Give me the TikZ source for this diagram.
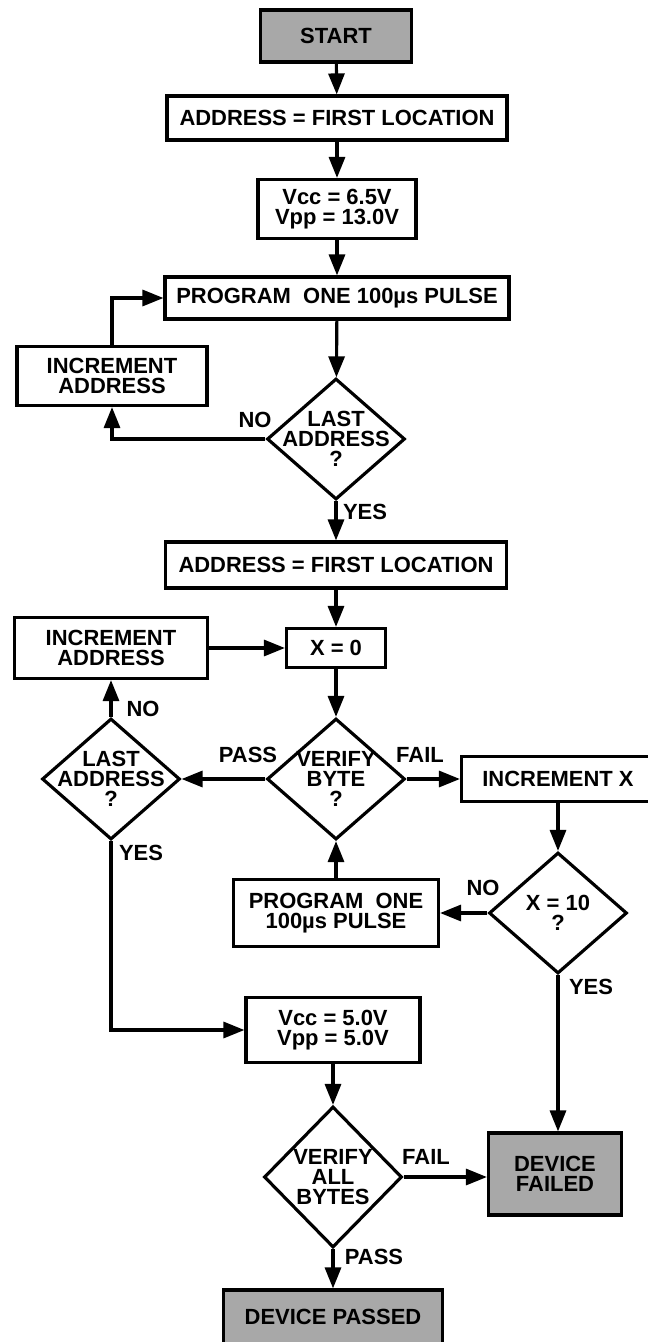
\documentclass[tikz,border=0pt]{standalone}
\usepackage{fontspec}
\setmainfont{Liberation Sans}
\usetikzlibrary{positioning, arrows.meta, shapes.geometric, calc}
\definecolor{shadecol}{RGB}{168, 168, 168}
\newcommand{\flowfont}{\bfseries\fontsize{12.5}{11.5}\selectfont}

\begin{document}
\begin{tikzpicture}[x=0.02cm, y=-0.02cm, line width=1.8pt,
      proc/.style={rectangle,draw,align=center,inner sep=0pt,font=\flowfont},
      term/.style={rectangle,draw,fill=shadecol,align=center,inner sep=0pt,font=\flowfont},
      test/.style={diamond,draw,inner sep=0pt,minimum width=2.76cm,minimum height=2.42cm},
      txt/.style={align=center,font=\flowfont,inner sep=0pt},
      lbl/.style={font=\flowfont,inner sep=0pt},
      arr/.style={-{Triangle[length=0.42cm,width=0.32cm]}}]
    \useasboundingbox (0,0) rectangle (648,1342);
    % first pass: program every location once
    \node[term, minimum width=3.02cm, minimum height=1.04cm] (start) at (336,36) {START};
    \node[proc, minimum width=6.8cm,  minimum height=0.88cm] (addrA) at (337,118) {ADDRESS = FIRST LOCATION};
    \node[proc, minimum width=3.16cm, minimum height=1.18cm] (vccA)  at (337,209) {Vcc = 6.5V\\Vpp = 13.0V};
    \node[proc, minimum width=6.88cm, minimum height=0.84cm] (progA) at (337,298) {PROGRAM\ \ ONE 100µs PULSE};
    \node[proc, minimum width=3.8cm,  minimum height=1.18cm] (incA)  at (112,376) {INCREMENT\\ADDRESS};
    \node[test, label={[txt]center:LAST\\ADDRESS\\?}] (lastA) at (336,439) {};
    % second pass: verify, reprogram up to ten times
    \node[proc, minimum width=6.82cm, minimum height=0.92cm] (addrB) at (336,565) {ADDRESS = FIRST LOCATION};
    \node[proc, minimum width=1.98cm, minimum height=0.78cm] (xzero) at (336,648) {X = 0};
    \node[proc, minimum width=3.86cm, minimum height=1.22cm] (incB)  at (111,648) {INCREMENT\\ADDRESS};
    \node[test, label={[txt]center:LAST\\ADDRESS\\?}] (lastB) at (111,779) {};
    \node[test, label={[txt]center:VERIFY\\BYTE\\?}] (verB) at (336,779) {};
    \node[proc, minimum width=3.86cm, minimum height=0.9cm] (incX) at (558,779) {INCREMENT X};
    \node[test, label={[txt]center:X = 10\\?}] (xten) at (558,913) {};
    \node[proc, minimum width=4.1cm,  minimum height=1.34cm] (progB) at (336,913) {PROGRAM\ \ ONE\\100µs PULSE};
    % final check
    \node[proc, minimum width=3.48cm, minimum height=1.3cm] (vccB) at (333,1030) {Vcc = 5.0V\\Vpp = 5.0V};
    \node[test, minimum height=2.82cm, label={[txt]center:VERIFY\\ALL\\BYTES}] (verAll) at (333,1177) {};
    \node[term, minimum width=2.66cm, minimum height=1.64cm] (failed) at (555,1174) {DEVICE\\FAILED};
    \node[term, minimum width=4.38cm, minimum height=1.08cm] (passed) at (333,1317) {DEVICE PASSED};
    % branch labels
    \node[lbl] (noA)     at (255,420)  {NO};
    \node[lbl] (yesA)    at (365,512)  {YES};
    \node[lbl] (noB)     at (143,709)  {NO};
    \node[lbl] (passB)   at (248,755)  {PASS};
    \node[lbl] (failB)   at (420,755)  {FAIL};
    \node[lbl] (yesB)    at (141,853)  {YES};
    \node[lbl] (noX)     at (483,888)  {NO};
    \node[lbl] (yesX)    at (591,987)  {YES};
    \node[lbl] (failAll) at (426,1157) {FAIL};
    \node[lbl] (passAll) at (374,1257) {PASS};
    % connectors
    \draw[arr] (start) -- (addrA);
    \draw[arr] (addrA) -- (vccA);
    \draw[arr] (vccA) -- (progA);
    \draw[arr] (progA) -- (lastA);
    \draw[arr] (lastA.west) -| (incA.south);
    \draw[arr] (incA.north) |- (progA.west);
    \draw[arr] (lastA) -- (addrB);
    \draw[arr] (addrB) -- (xzero);
    \draw[arr] (incB.east) -- (xzero.west);
    \draw[arr] (xzero) -- (verB);
    \draw[arr] (verB.west) -- (lastB.east);
    \draw[arr] (verB.east) -- (incX.west);
    \draw[arr] (lastB.north) -- (incB.south);
    \draw[arr] (incX) -- (xten);
    \draw[arr] (xten.west) -- (progB.east);
    \draw[arr] (progB.north) -- (verB.south);
    \draw[arr] (lastB.south) |- (vccB.west);
    \draw[arr] (xten.south) -- (xten.south |- failed.north);
    \draw[arr] (vccB) -- (verAll);
    \draw[arr] (verAll.east) -- (verAll.east -| failed.west);
    \draw[arr] (verAll.south) -- (passed.north);
\end{tikzpicture}
\end{document}
